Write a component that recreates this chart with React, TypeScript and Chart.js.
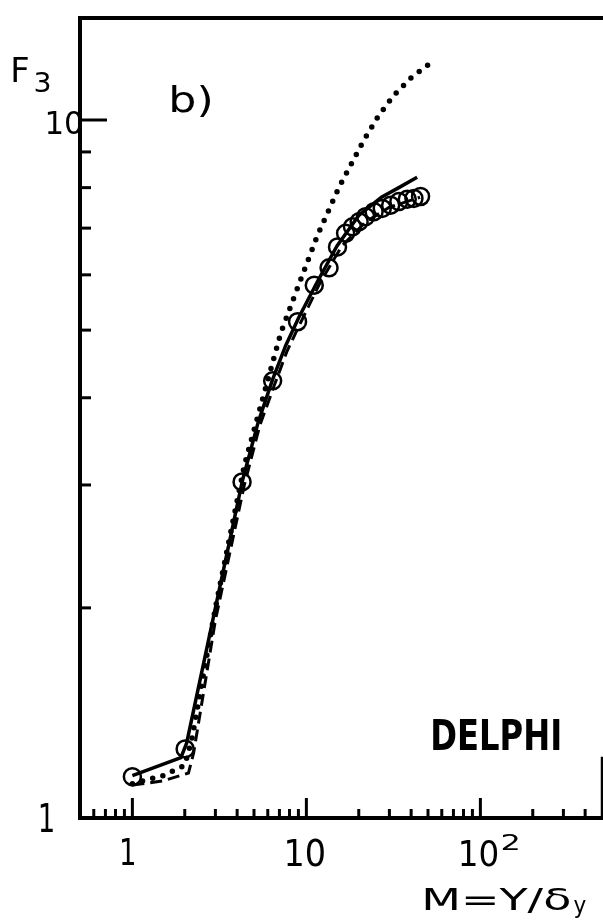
import React, { useEffect, useRef } from "react";
import { Chart, registerables } from "chart.js";

Chart.register(...registerables);

// DELPHI data points (open circles)
const circleM = [1.0, 2.01, 4.27, 6.4, 8.9, 11.1, 13.5, 15.1, 16.8, 18.4, 20.1, 21.9, 24.5, 27.3, 30.5, 34.0, 38.0, 41.5, 45.3];
const circleF3 = [1.146, 1.256, 3.03, 4.23, 5.14, 5.8, 6.14, 6.58, 6.88, 7.03, 7.15, 7.27, 7.39, 7.47, 7.55, 7.64, 7.7, 7.72, 7.77];

// solid curve
const solidM = [1.0, 1.9, 2.05, 3.0, 4.3, 5.3, 6.4, 7.6, 9.0, 11.5, 15, 20, 27, 34, 43.3];
const solidF3 = [1.15, 1.22, 1.28, 2.0, 3.05, 3.7, 4.25, 4.75, 5.2, 5.85, 6.6, 7.3, 7.75, 8.0, 8.28];

// dashed curve
const dashedM = [1.0, 1.5, 2.1, 2.25, 3.0, 4.4, 5.4, 6.5, 7.7, 9.0, 12, 16, 22, 30, 45];
const dashedF3 = [1.115, 1.13, 1.16, 1.24, 1.92, 3.0, 3.65, 4.15, 4.65, 5.05, 5.85, 6.6, 7.15, 7.5, 7.75];

// dotted curve
const dottedM = [1.0, 1.5, 2.0, 2.2, 3.0, 4.4, 5.94, 7.14, 9.09, 11.6, 15.4, 21.3, 25.8, 31.6, 40.2, 52.9];
const dottedF3 = [1.12, 1.15, 1.19, 1.3, 2.0, 3.2, 4.2, 4.96, 5.83, 6.84, 8.01, 9.34, 10.11, 10.83, 11.51, 12.12];

// axis ticks
const xTicks = [0.6, 0.7, 0.8, 0.9, 1, 2, 3, 4, 5, 6, 7, 8, 9, 10, 20, 30, 40, 50, 60, 70, 80, 90, 100, 200, 300, 400];
const xMajor = [1, 10, 100];
const yTicks = [2, 3, 4, 5, 6, 7, 8, 9, 10];
const yMajor = [10];
const xTickLabels = ["1", "10", "10"];
const yTickLabels = ["1", "10"];

const FONT = '"DejaVu Sans Condensed", "DejaVu Sans", sans-serif';

const pts = (xs: number[], ys: number[]) => xs.map((x, i) => ({ x, y: ys[i] }));

// draw text so that its ink fills the given box
function inkText(ctx: CanvasRenderingContext2D, text: string, l: number, t: number, r: number, b: number, bold = false) {
  ctx.save();
  ctx.font = `${bold ? "bold " : ""}40px ${FONT}`;
  ctx.textAlign = "left";
  ctx.textBaseline = "alphabetic";
  const m = ctx.measureText(text);
  const iw = m.actualBoundingBoxLeft + m.actualBoundingBoxRight;
  const ih = m.actualBoundingBoxAscent + m.actualBoundingBoxDescent;
  ctx.translate(l, t);
  ctx.scale((r - l) / iw, (b - t) / ih);
  ctx.fillText(text, m.actualBoundingBoxLeft, m.actualBoundingBoxAscent);
  ctx.restore();
}

const decorPlugin = {
  id: "decor",
  afterDraw(chart: any) {
    const { ctx, chartArea: a, scales } = chart;
    const xs = scales.x;
    const ys = scales.y;
    ctx.save();
    ctx.strokeStyle = "#000";
    ctx.fillStyle = "#000";
    // frame
    ctx.lineWidth = 4;
    ctx.lineCap = "square";
    ctx.beginPath();
    ctx.moveTo(a.left, a.bottom);
    ctx.lineTo(a.left, a.top);
    ctx.lineTo(a.right + 4, a.top);
    ctx.stroke();
    ctx.beginPath();
    ctx.moveTo(a.left, a.bottom);
    ctx.lineTo(a.right + 4, a.bottom);
    ctx.stroke();
    ctx.lineWidth = 2.5;
    ctx.beginPath();
    ctx.moveTo(a.right, a.bottom);
    ctx.lineTo(a.right, a.bottom - 60);
    ctx.stroke();
    // ticks
    ctx.lineWidth = 3;
    ctx.lineCap = "butt";
    xTicks.forEach((v) => {
      const px = xs.getPixelForValue(v);
      const len = xMajor.includes(v) ? 20 : 9;
      ctx.beginPath();
      ctx.moveTo(px, a.bottom);
      ctx.lineTo(px, a.bottom - len);
      ctx.stroke();
    });
    yTicks.forEach((v) => {
      const py = ys.getPixelForValue(v);
      const len = yMajor.includes(v) ? 27 : 11;
      ctx.beginPath();
      ctx.moveTo(a.left, py);
      ctx.lineTo(a.left + len, py);
      ctx.stroke();
    });
    // tick labels (positioned from the scales)
    const x1 = xs.getPixelForValue(1);
    const x10 = xs.getPixelForValue(10);
    const x100 = xs.getPixelForValue(100);
    const y1 = ys.getPixelForValue(1);
    const y10 = ys.getPixelForValue(10);
    inkText(ctx, xTickLabels[0], x1 - 11, 837, x1 + 2, 865);
    inkText(ctx, xTickLabels[1], x10 - 20, 837, x10 + 18, 867);
    inkText(ctx, xTickLabels[2], x100 - 20, 839, x100 + 17, 867);
    inkText(ctx, "2", x100 + 22, 833, x100 + 38, 850);
    inkText(ctx, yTickLabels[0], 40, y1 - 15, 53, y1 + 14);
    inkText(ctx, yTickLabels[1], 47, y10 - 10, 82, y10 + 15);
    // axis titles
    inkText(ctx, "F", 13, 57, 28, 82);
    inkText(ctx, "3", 35, 72, 50, 93);
    inkText(ctx, "M=Y/δ", 425, 886, 570, 913);
    inkText(ctx, "y", 574, 900, 586, 918);
    // panel label
    inkText(ctx, "b)", 172, 85, 210, 117);
    // experiment
    inkText(ctx, "DELPHI", 433, 718, 560, 750, true);
    ctx.restore();
  },
};

export default function App() {
  const ref = useRef<HTMLCanvasElement | null>(null);
  useEffect(() => {
    document.body.style.margin = "0";
    const chart = new Chart(ref.current as HTMLCanvasElement, {
      type: "line",
      data: {
        datasets: [
          {
            label: "DELPHI",
            data: pts(circleM, circleF3),
            showLine: false,
            pointStyle: "circle",
            pointRadius: 8.5,
            pointBorderWidth: 2.5,
            pointBorderColor: "#000",
            pointBackgroundColor: "rgba(0,0,0,0)",
            order: 0,
          },
          {
            label: "solid",
            data: pts(solidM, solidF3),
            borderColor: "#000",
            borderWidth: 3.5,
            pointRadius: 0,
            tension: 0,
            order: 1,
          },
          {
            label: "dashed",
            data: pts(dashedM, dashedF3),
            borderColor: "#000",
            borderWidth: 3,
            borderDash: [12, 6],
            pointRadius: 0,
            tension: 0,
            order: 2,
          },
          {
            label: "dotted",
            data: pts(dottedM, dottedF3),
            borderColor: "#000",
            borderWidth: 5.5,
            borderDash: [0, 10.5],
            borderCapStyle: "round",
            pointRadius: 0,
            tension: 0,
            order: 3,
          },
        ],
      },
      options: {
        animation: false,
        responsive: false,
        maintainAspectRatio: false,
        devicePixelRatio: 1,
        layout: { autoPadding: false, padding: { left: 80, top: 18, right: 1, bottom: 102 } },
        plugins: { legend: { display: false }, tooltip: { enabled: false } },
        scales: {
          x: {
            type: "logarithmic",
            min: 0.5,
            max: 500,
            display: false,
          },
          y: {
            type: "logarithmic",
            min: 1,
            max: 14,
            display: false,
          },
        },
      },
      plugins: [decorPlugin],
    } as any);
    return () => chart.destroy();
  }, []);
  return (
    <div style={{ position: "absolute", left: 0, top: 0, width: 603, height: 920, background: "#fff" }}>
      <canvas ref={ref} width={603} height={920} style={{ display: "block", width: 603, height: 920 }} />
    </div>
  );
}
